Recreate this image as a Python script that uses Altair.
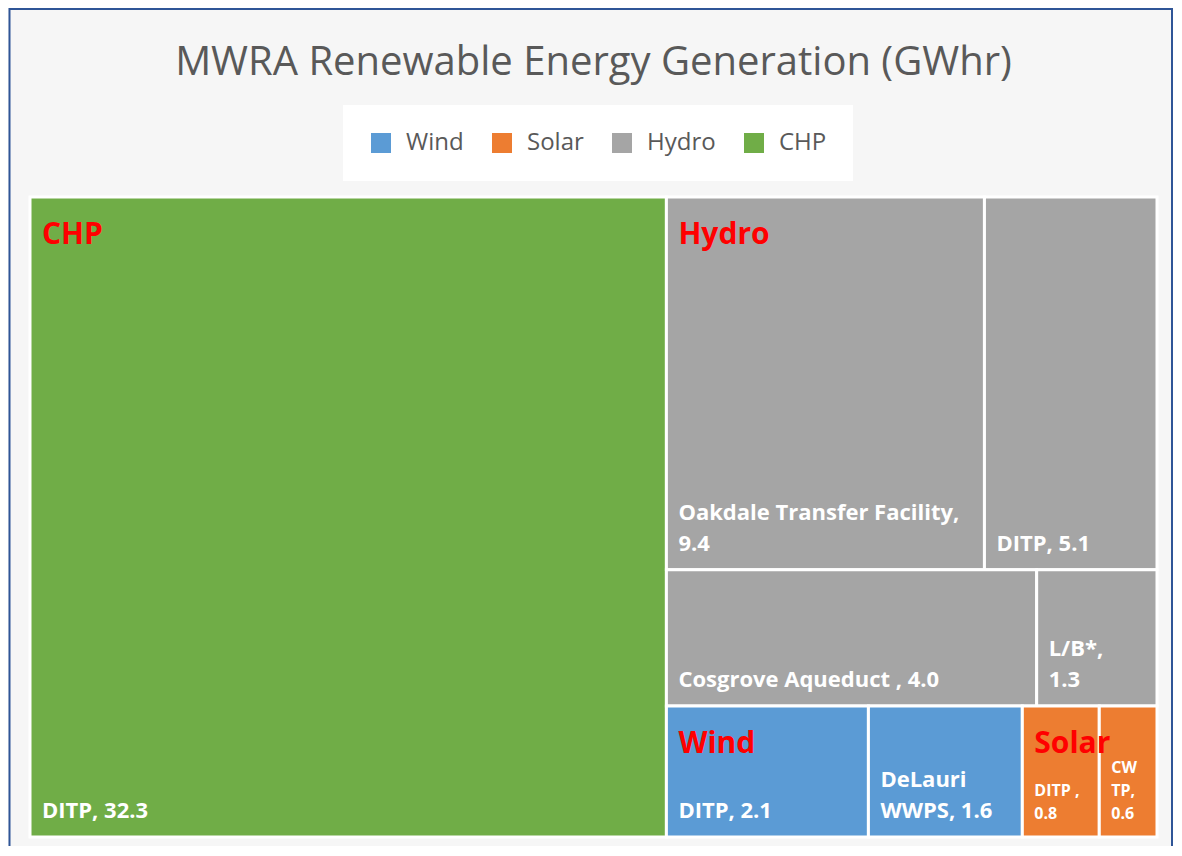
import altair as alt
import pandas as pd

# ---- data ----
groups = ["CHP", "Hydro", "Hydro", "Hydro", "Hydro", "Wind", "Wind", "Solar", "Solar"]
sites = ["DITP", "Oakdale Transfer Facility", "DITP", "Cosgrove Aqueduct ", "L/B*",
         "DITP", "DeLauri WWPS", "DITP ", "CWTP"]
values = [32.3, 9.4, 5.1, 4.0, 1.3, 2.1, 1.6, 0.8, 0.6]
labels = ["DITP, 32.3", "Oakdale Transfer Facility,\n9.4", "DITP, 5.1",
          "Cosgrove Aqueduct , 4.0", "L/B*,\n1.3", "DITP, 2.1", "DeLauri\nWWPS, 1.6",
          "DITP ,\n0.8", "CW\nTP,\n0.6"]
legend_order = ["Wind", "Solar", "Hydro", "CHP"]
legend_colors = ["#5B9BD5", "#ED7D31", "#A5A5A5", "#70AD47"]
title_text = "MWRA Renewable Energy Generation (GWhr)"

W, H = 1127, 640  # plot area in px; scales map these 1:1


# ---- squarified treemap layout (mean aspect criterion) ----
def score(row, short):
    t = sum(row) / short
    asp = []
    for a in row:
        ln = a / t
        asp.append(max(ln / t, t / ln))
    return sum(asp) / len(asp)


def squarify(vals, x0, y0, w, h):
    total = sum(vals)
    areas = [v * w * h / total for v in vals]
    out = []
    i = 0
    while i < len(areas):
        short = min(w, h)
        row = [areas[i]]
        j = i + 1
        while j < len(areas) and score(row + [areas[j]], short) <= score(row, short):
            row.append(areas[j])
            j += 1
        s = sum(row)
        if w >= h:
            t = s / h
            yy = y0
            for a in row:
                ln = a / t
                out.append((x0, yy, x0 + t, yy + ln))
                yy += ln
            x0 += t
            w -= t
        else:
            t = s / w
            xx = x0
            for a in row:
                ln = a / t
                out.append((xx, y0, xx + ln, y0 + t))
                xx += ln
            y0 += t
            h -= t
        i = j
    return out


gnames = []
for g in groups:
    if g not in gnames:
        gnames.append(g)
gtot = {g: sum(v for gg, v in zip(groups, values) if gg == g) for g in gnames}
gnames.sort(key=lambda g: -gtot[g])
grects = squarify([gtot[g] for g in gnames], 0, 0, W, H)

leaf_rows, group_rows, line_rows = [], [], []
for g, (gx0, gy0, gx1, gy1) in zip(gnames, grects):
    group_rows.append({"group": g, "lx": gx0 + 12, "ly": gy0 + 47})
    idx = [k for k, gg in enumerate(groups) if gg == g]
    idx.sort(key=lambda k: -values[k])
    crects = squarify([values[k] for k in idx], gx0, gy0, gx1 - gx0, gy1 - gy0)
    for k, (x0, y0, x1, y1) in zip(idx, crects):
        leaf_rows.append({"group": g, "site": sites[k], "value": values[k],
                          "x0": x0, "x1": x1, "y0": y0, "y1": y1})
        small = (x1 - x0) < 100
        fs = 16 if small else 22
        lh = 23 if small else 31
        pad = 18 if small else 19
        lines = labels[k].split("\n")
        n = len(lines)
        for li, txt in enumerate(lines):
            line_rows.append({"line": txt, "fs": fs, "lx": x0 + 12,
                              "ly": y1 - pad - (n - 1 - li) * lh})

leaf_df = pd.DataFrame(leaf_rows)
group_df = pd.DataFrame(group_rows)
line_df = pd.DataFrame(line_rows)

xs = alt.Scale(domain=[0, W], nice=False, zero=False)
ys = alt.Scale(domain=[0, H], nice=False, zero=False, reverse=True)

border = alt.Chart(pd.DataFrame({"k": [0]})).mark_rect(
    fillOpacity=0, stroke="#2F5597", strokeWidth=2
).encode(x=alt.value(-20.5), x2=alt.value(1142), y=alt.value(-188), y2=alt.value(720))

rects = alt.Chart(leaf_df).mark_rect(stroke="white", strokeWidth=3).encode(
    x=alt.X("x0:Q", scale=xs, axis=None),
    x2="x1:Q",
    y=alt.Y("y0:Q", scale=ys, axis=None),
    y2="y1:Q",
    color=alt.Color(
        "group:N",
        scale=alt.Scale(domain=legend_order, range=legend_colors),
        legend=alt.Legend(
            title=None, orient="none", legendX=313, legendY=-92,
            direction="horizontal", columns=4, symbolType="square",
            symbolSize=400, symbolStrokeWidth=0, labelFont="Open Sans",
            labelFontSize=24, labelColor="#595959", labelOffset=13,
            columnPadding=26, padding=26, fillColor="white",
        ),
    ),
    tooltip=["group:N", "site:N", "value:Q"],
)

cat_text = alt.Chart(group_df).mark_text(
    align="left", baseline="alphabetic", font="Open Sans", fontWeight="bold",
    fontSize=30, color="#FF0000"
).encode(
    x=alt.X("lx:Q", scale=xs, axis=None),
    y=alt.Y("ly:Q", scale=ys, axis=None),
    text="group:N",
)

leaf_text = alt.Chart(line_df).mark_text(
    align="left", baseline="alphabetic", font="Open Sans", fontWeight="bold",
    color="white"
).encode(
    x=alt.X("lx:Q", scale=xs, axis=None),
    y=alt.Y("ly:Q", scale=ys, axis=None),
    text="line:N",
    size=alt.Size("fs:Q", scale=None, legend=None),
)

chart = alt.layer(border, rects, leaf_text, cat_text).properties(
    width=W, height=H,
    autosize=alt.AutoSizeParams(type="none"),
    padding={"left": 22, "top": 189, "right": 16, "bottom": 9},
    title=alt.TitleParams(
        text=title_text, font="Open Sans", fontSize=40, fontWeight="normal",
        color="#595959", anchor="middle", offset=0, dy=75,
    ),
).configure(background="#F6F6F6").configure_view(stroke=None)

chart.save("out.html", embed_options={"renderer": "svg", "actions": False})
